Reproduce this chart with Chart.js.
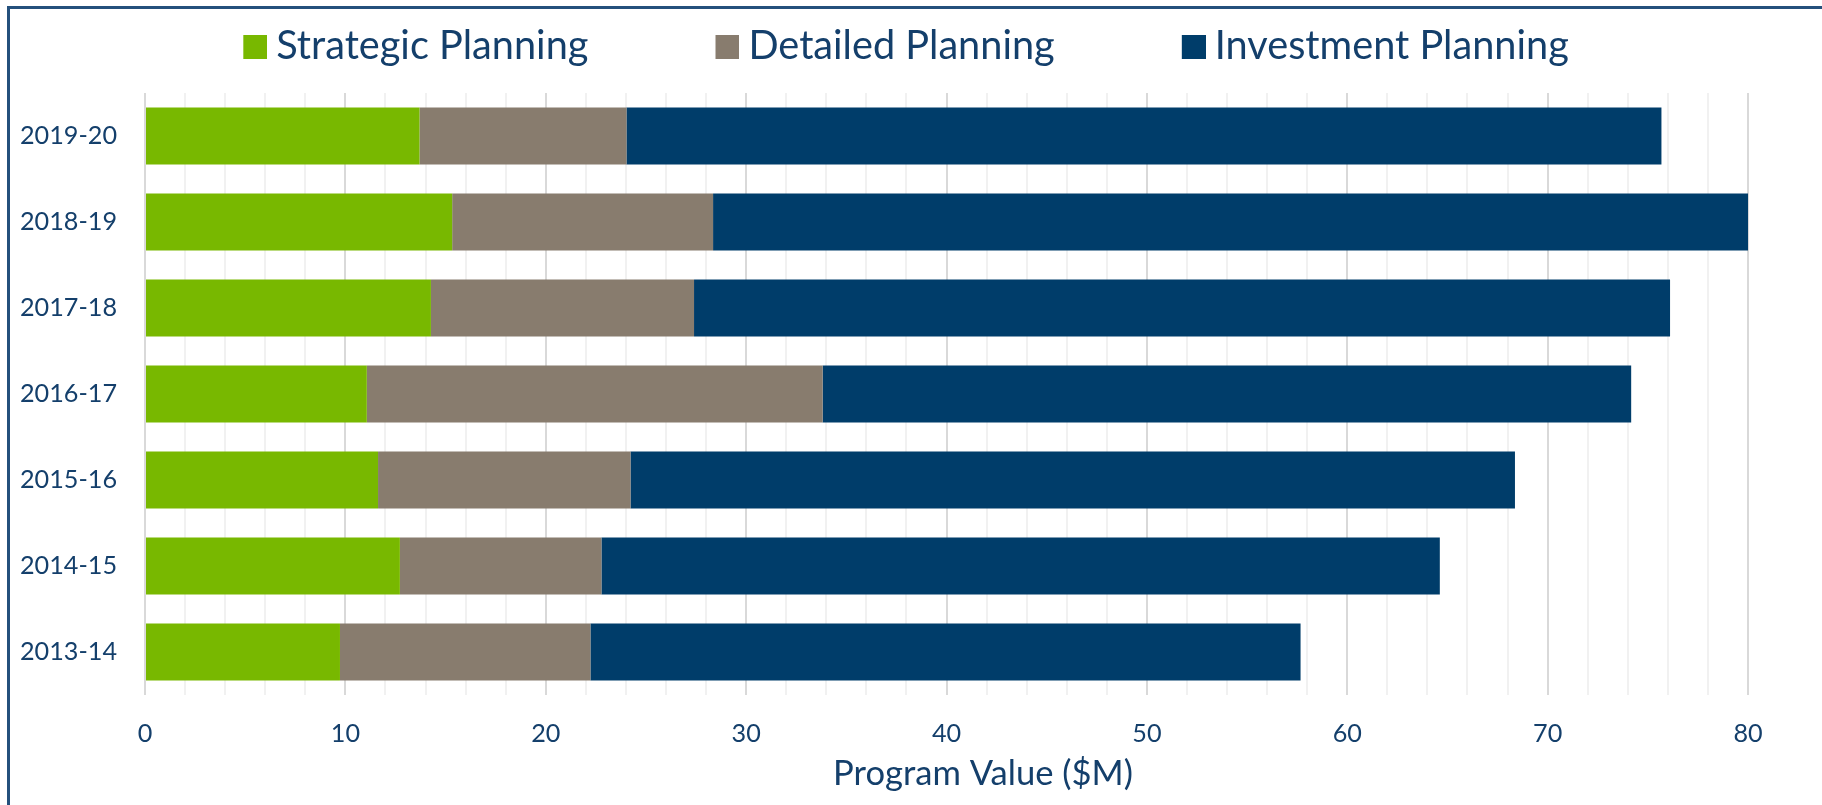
<!DOCTYPE html>
<html>
<head>
<meta charset="utf-8">
<script src="https://cdn.jsdelivr.net/npm/chart.js@4/dist/chart.umd.min.js"></script>
<style>
  html, body { margin: 0; padding: 0; background: #ffffff; }
  canvas { display: block; }
</style>
</head>
<body>
<canvas id="c" width="1822" height="805"></canvas>
<script>
// ---- data ----
const categories = ['2019-20', '2018-19', '2017-18', '2016-17', '2015-16', '2014-15', '2013-14'];
const seriesNames = ['Strategic Planning', 'Detailed Planning', 'Investment Planning'];
const strategic  = [13.70, 15.33, 14.27, 11.07, 11.63, 12.72, 9.73];
const detailed   = [10.33, 13.02, 13.13, 22.75, 12.60, 10.06, 12.50];
const investment = [51.65, 51.65, 48.71, 40.35, 44.14, 41.84, 35.44];
const axisTitle = 'Program Value ($M)';
const xMin = 0, xMax = 80, xStep = 2, xLabelEvery = 10;

// ---- styles ----
const FAMILY = 'Lato, "Noto Sans", sans-serif';
const TEXT = '#143f6b';
const COLORS = ['#78b800', '#887c6e', '#003d6a'];

const mctx = document.createElement('canvas').getContext('2d');
function fitSize(text, target) {
  mctx.font = '100px ' + FAMILY;
  return Math.round(100 * target / mctx.measureText(text).width * 10) / 10;
}
const tickSize = fitSize('2019-20', 97);
const legendSize = fitSize('Strategic Planning', 312);
const titleSize = fitSize(axisTitle, 300);

const W = 1822, H = 805;
const PLOT_LEFT = 145, PLOT_RIGHT = 1748, PLOT_TOP = 93, PLOT_BOTTOM = 695;
const PAD_LEFT = 12;
const LEGEND_CY = 46.5;
const LEGEND_CX = 906;
const LEGEND_PAD = 127;
const TITLE_CX = 983;

// legend marker: a 24px square, drawn so that the gap to the text is ~9px
const SWATCH = 24, SWATCH_GAP = 9;
const markerBoxW = SWATCH + SWATCH_GAP - legendSize / 2;   // slot width used by Chart.js
const markerImgW = 2 * (SWATCH - markerBoxW / 2);          // image centred at slot centre
function swatch(color) {
  const cv = document.createElement('canvas');
  cv.width = Math.ceil(markerImgW);
  cv.height = SWATCH;
  const g = cv.getContext('2d');
  g.fillStyle = color;
  g.fillRect(cv.width - SWATCH, 0, SWATCH, SWATCH);
  return cv;
}
const swatches = COLORS.map(swatch);

const legendFix = {
  id: 'legendFix',
  beforeInit(chart) {
    const lg = chart.legend;
    if (!lg) return;
    const origFit = lg.fit.bind(lg);
    lg.fit = function () { origFit(); this.height = PLOT_TOP; };
    const origDraw = lg.draw.bind(lg);
    lg.draw = function (area) {
      const save = { top: this.top, bottom: this.bottom, left: this.left, right: this.right };
      const dy = LEGEND_CY - (this.top + LEGEND_PAD + legendSize / 2);
      const dx = LEGEND_CX - (this.left + this.right) / 2;
      this.top += dy;
      this.left += dx;
      this.right += dx;
      origDraw(area);
      Object.assign(this, save);
    };
  }
};

const titleShift = {
  id: 'titleShift',
  afterUpdate(chart) {
    const s = chart.scales.x;
    if (!s || s._titlePatched) return;
    s._titlePatched = true;
    const od = s.drawTitle.bind(s);
    s.drawTitle = function () {
      const ctx = this.ctx;
      ctx.save();
      ctx.translate(TITLE_CX - (this.left + this.right) / 2, 0);
      od();
      ctx.restore();
    };
  }
};

const frame = {
  id: 'frame',
  beforeDraw(chart) {
    const ctx = chart.ctx;
    ctx.save();
    ctx.fillStyle = '#24507c';
    ctx.fillRect(7, 6, W - 7, 3);
    ctx.fillRect(7, 6, 3, H - 6);
    ctx.restore();
  }
};

const seriesData = [strategic, detailed, investment];

new Chart(document.getElementById('c'), {
  type: 'bar',
  data: {
    labels: categories,
    datasets: seriesNames.map((name, i) => ({
      label: name,
      data: seriesData[i],
      backgroundColor: COLORS[i],
      borderWidth: 0,
      categoryPercentage: 1,
      barPercentage: 0.663
    }))
  },
  options: {
    indexAxis: 'y',
    responsive: false,
    animation: false,
    layout: { padding: { left: PAD_LEFT, right: W - PLOT_RIGHT, top: 0, bottom: 0 } },
    plugins: {
      tooltip: { enabled: false },
      legend: {
        position: 'top',
        align: 'center',
        labels: {
          usePointStyle: true,
          pointStyleWidth: markerBoxW,
          boxHeight: SWATCH,
          padding: LEGEND_PAD,
          color: TEXT,
          font: { family: FAMILY, size: legendSize },
          generateLabels(chart) {
            const items = Chart.defaults.plugins.legend.labels.generateLabels(chart);
            items.forEach((it, i) => { it.pointStyle = swatches[i]; it.lineWidth = 0; });
            return items;
          }
        }
      }
    },
    scales: {
      x: {
        type: 'linear',
        stacked: true,
        min: xMin,
        max: xMax,
        border: { display: false },
        grid: {
          drawTicks: false,
          color: c => (c.tick && c.tick.value % xLabelEvery === 0) ? '#d9d9d9' : '#f1f1f1',
          lineWidth: 2
        },
        ticks: {
          stepSize: xStep,
          autoSkip: false,
          maxRotation: 0,
          padding: 39 - tickSize * 1.2 / 2,
          color: TEXT,
          font: { family: FAMILY, size: tickSize },
          callback: v => (v % xLabelEvery === 0 ? String(v) : '')
        },
        title: {
          display: true,
          text: axisTitle,
          color: TEXT,
          font: { family: FAMILY, size: titleSize },
          padding: { top: 0, bottom: 31 - titleSize * 1.2 / 2 }
        },
        afterFit(s) { s.height = H - PLOT_BOTTOM; s.paddingLeft = 0; s.paddingRight = 0; }
      },
      y: {
        type: 'category',
        stacked: true,
        border: { display: false },
        grid: { display: false, drawTicks: false },
        ticks: {
          padding: 28,
          color: TEXT,
          font: { family: FAMILY, size: tickSize }
        },
        afterFit(s) { s.width = PLOT_LEFT - PAD_LEFT; s.paddingTop = 0; s.paddingBottom = 0; }
      }
    }
  },
  plugins: [legendFix, titleShift, frame]
});
</script>
</body>
</html>
